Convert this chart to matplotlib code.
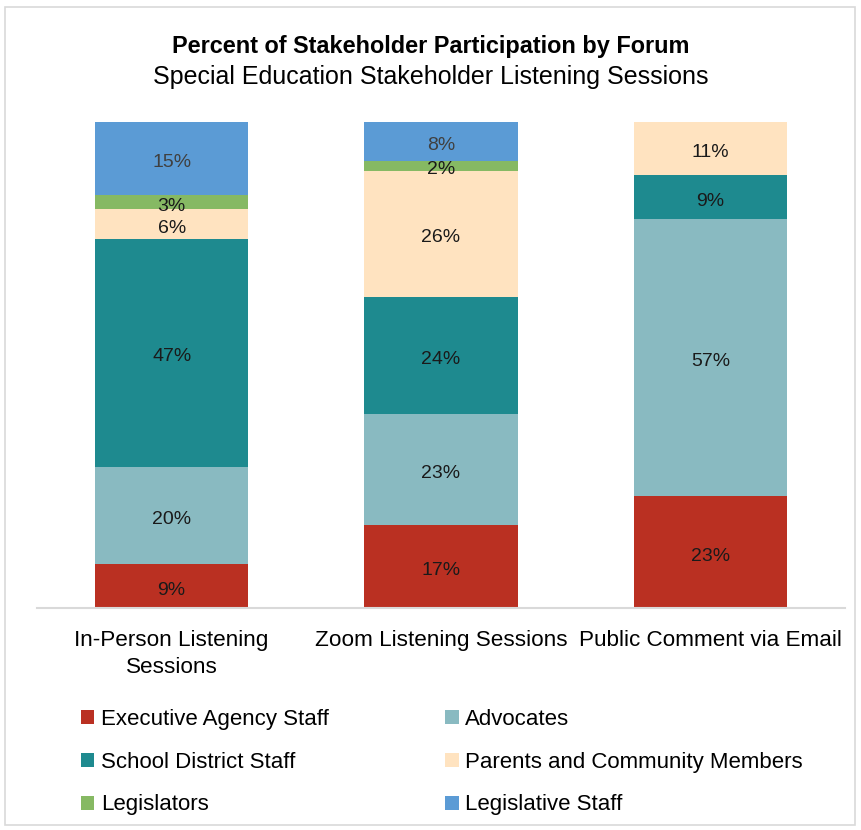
import matplotlib
matplotlib.use("Agg")
import matplotlib.pyplot as plt
from matplotlib.patches import Rectangle, Patch
from matplotlib.transforms import offset_copy

categories = ["In-Person Listening\nSessions", "Zoom Listening Sessions", "Public Comment via Email"]
series = ["Executive Agency Staff", "Advocates", "School District Staff",
          "Parents and Community Members", "Legislators", "Legislative Staff"]
exec_staff = [9, 17, 23]
advocates = [20, 23, 57]
school_staff = [47, 24, 9]
parents = [6, 26, 11]
legislators = [3, 2, 0]
leg_staff = [15, 8, 0]
values = [exec_staff, advocates, school_staff, parents, legislators, leg_staff]
colors = ["#BA3022", "#89BAC1", "#1E8A8F", "#FFE3C0", "#86B963", "#5B9BD5"]
label_colors = ["#1a1a1a", "#1a1a1a", "#1a1a1a", "#1a1a1a", "#1a1a1a", "#404040"]

plt.rcParams['font.family'] = ["Liberation Sans", "DejaVu Sans"]

fig = plt.figure(figsize=(8.61, 8.30), dpi=100)
fig.patches.append(Rectangle((5/861, 5/830), 850/861, 818/830, transform=fig.transFigure,
                             fill=False, edgecolor="#D9D9D9", linewidth=1.2))

ax = fig.add_axes([37/861, 1 - 608/830, 808/861, (608 - 122)/830])
txt_tr = offset_copy(ax.transData, fig=fig, x=0, y=-1.5, units="points")
x = list(range(len(categories)))
bottom = [0.0] * len(categories)
for vals, col, lc in zip(values, colors, label_colors):
    ax.bar(x, vals, width=0.57, bottom=bottom, color=col, edgecolor="none")
    for i, v in enumerate(vals):
        if v > 0:
            ax.text(x[i], bottom[i] + v / 2, f"{v}%", ha="center", va="center_baseline",
                    fontsize=14, color=lc, transform=txt_tr)
    bottom = [b + v for b, v in zip(bottom, vals)]

ax.set_xlim(-0.5, 2.5)
ax.set_ylim(0, 100)
ax.set_yticks([])
ax.set_xticks(x)
ax.set_xticklabels(categories, fontsize=16.2, linespacing=1.42)
ax.tick_params(axis="x", length=0, pad=15.5)
for s in ["top", "left", "right"]:
    ax.spines[s].set_visible(False)
ax.spines["bottom"].set_color("#D9D9D9")
ax.spines["bottom"].set_linewidth(1.5)

fig.text(0.5, 1 - 47/830, "Percent of Stakeholder Participation by Forum", ha="center",
         va="center", fontsize=16.9, fontweight="bold")
fig.text(0.5, 1 - 77/830, "Special Education Stakeholder Listening Sessions", ha="center",
         va="center", fontsize=18)

# row-major legend order: reorder for matplotlib's column-major filling
idx = [0, 2, 4, 1, 3, 5]
handles = [Patch(facecolor=colors[i], edgecolor="none") for i in idx]
labels = [series[i] for i in idx]
fig.legend(handles, labels, loc="upper left", bbox_to_anchor=(72/861, 1 - 700/830),
           ncol=2, frameon=False, prop={"size": 16},
           handlelength=0.6, handleheight=0.6, handletextpad=0.3,
           columnspacing=5.25, labelspacing=0.98, borderaxespad=0)

fig.savefig("out.png", dpi=100)
